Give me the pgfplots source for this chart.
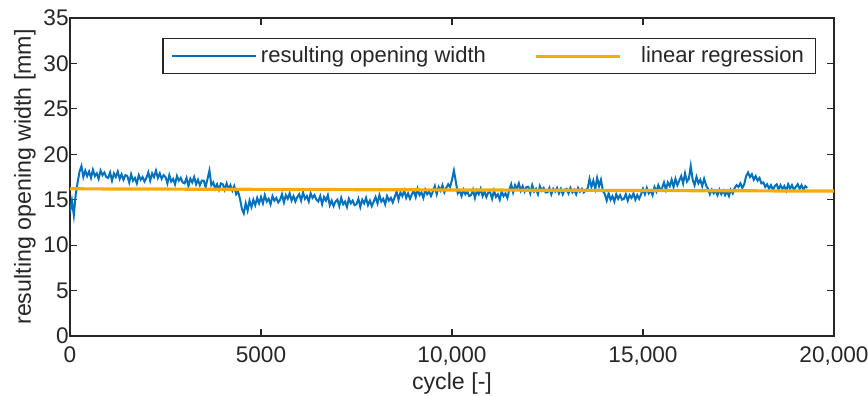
\documentclass[border=0pt]{standalone}
\usepackage{pgfplots}
\pgfplotsset{compat=1.18}
\usepackage{pgfplotstable}
\usetikzlibrary{calc}
\usepackage{fontspec}
\setmainfont{Liberation Sans}
\definecolor{mblue}{RGB}{0,114,189}
\definecolor{morange}{RGB}{247,170,10}
\definecolor{axgray}{RGB}{38,38,38}
\pgfplotstableread{
y
13.6
14.9
13.3
15.6
16.9
18.1
18.7
17.5
18.2
17.6
18.1
17.4
18.3
17.6
17.9
17.3
18.2
17.7
18.0
17.5
17.4
18.0
17.1
17.9
17.5
18.1
17.3
17.8
17.2
17.7
17.6
16.9
17.8
17.1
17.4
16.8
17.7
17.2
17.5
17.0
17.4
18.0
17.1
17.9
17.5
18.2
17.4
17.9
17.3
17.7
17.5
16.8
17.7
17.0
17.3
16.7
17.6
17.1
17.4
16.9
16.8
17.4
16.5
17.3
16.9
17.5
16.7
17.2
16.6
17.1
17.1
16.4
17.3
18.2
16.6
16.9
16.2
16.7
16.1
16.8
16.7
16.1
16.8
16.2
16.6
16.0
16.5
15.6
15.9
15.1
14.0
13.5
14.6
13.8
14.9
14.2
15.0
14.4
15.2
14.6
15.3
14.6
15.5
14.8
15.1
14.5
15.4
14.9
15.2
14.7
15.0
15.6
14.7
15.5
15.1
15.7
14.9
15.4
14.8
15.3
15.6
14.9
15.8
15.1
15.4
14.8
15.7
15.2
15.5
15.0
14.8
15.4
14.5
15.3
14.9
15.5
14.4
14.9
14.3
14.8
15.0
14.3
15.2
14.5
14.8
14.2
15.1
14.6
14.9
14.4
14.5
15.1
14.2
15.0
14.6
15.2
14.4
14.9
14.3
14.8
15.3
14.6
15.5
14.8
15.1
14.5
15.4
14.9
15.2
14.7
15.3
15.9
15.0
15.8
15.4
16.0
15.2
15.7
15.1
15.6
16.0
15.3
16.2
15.5
15.8
15.2
16.1
15.6
15.9
15.4
15.9
16.5
15.6
16.4
16.0
16.6
15.8
16.3
16.7
16.4
17.2
18.2
17.0
15.7
16.0
15.4
16.1
15.6
15.9
15.4
15.5
16.1
15.2
16.0
15.6
16.2
15.4
15.9
15.3
15.8
15.8
15.1
16.0
15.3
15.6
15.0
15.9
15.4
15.7
15.2
16.1
16.7
15.8
16.6
16.2
16.8
16.0
16.5
15.9
16.4
16.4
15.7
16.6
15.9
16.2
15.6
16.5
16.0
16.3
15.8
15.8
16.3
15.6
16.2
15.9
16.3
15.7
16.2
15.6
16.1
16.2
15.7
16.3
15.8
16.1
15.6
16.3
15.9
16.2
15.8
16.0
16.2
17.3
16.4
17.1
16.2
17.4
16.5
17.2
16.0
15.6
14.9
15.7
15.0
15.4
14.8
15.6
15.1
15.5
15.0
15.1
15.6
14.9
15.5
15.2
15.7
15.0
15.5
15.1
15.6
16.2
15.6
16.3
15.7
16.0
15.5
16.4
15.9
16.6
16.1
16.3
16.9
16.1
16.9
16.5
17.2
16.4
17.3
16.6
17.1
17.6
16.8
17.9
17.0
17.3
18.7
17.2
16.6
17.5
16.8
17.2
16.5
17.3
16.6
16.2
15.6
16.1
15.7
16.0
15.5
16.1
15.6
16.0
15.5
15.9
15.4
16.1
15.7
16.3
16.6
16.4
16.8
16.3
16.7
17.6
18.0
17.5
17.8
17.2
17.6
17.1
17.4
16.8
16.9
16.4
16.7
16.2
16.6
16.1
16.5
16.7
16.1
16.6
16.2
16.5
16.0
16.7
16.2
16.6
16.1
16.4
16.7
16.2
16.6
16.1
16.5
16.3
}\widthdata
\begin{document}
\begin{tikzpicture}
\begin{axis}[
  name=ax,
  scale only axis,
  width=382pt, height=159pt,
  xmin=0, xmax=20000, ymin=0, ymax=35,
  xtick={0,5000,10000,15000,20000},
  xticklabels={0,5000,{10,000},{15,000},{20,000}},
  ytick={0,5,...,35},
  scaled x ticks=false,
  /pgf/number format/assume math mode=true,
  tick align=inside,
  major tick length=3.5pt,
  axis line style={axgray, line width=0.6pt},
  every tick/.style={axgray, line width=0.6pt},
  tick label style={font=\fontsize{11.3}{13}\selectfont, text=axgray},
  yticklabel style={inner xsep=0.5pt},
  xticklabel style={yshift=-2pt},
  label style={font=\fontsize{11.6}{14}\selectfont, text=axgray},
  xlabel={cycle [-]},
  ylabel={resulting opening width [mm]},
  xlabel style={at={(axis description cs:0.5,-0.15)}, anchor=center},
  ylabel style={at={(axis description cs:-0.059,0.5)}, anchor=center, rotate=0},
  legend columns=2,
  legend style={at={(rel axis cs:0.977,0.937)}, anchor=north east,
    draw=axgray, line width=0.6pt, font=\fontsize{11}{13}\selectfont,
    text=axgray, inner xsep=4pt, inner ysep=2pt,
    /tikz/every even column/.append style={column sep=22pt}},
  legend image code/.code={\draw[#1] (0pt,0pt) -- (42pt,0pt);},
]
\addplot[mblue, line width=1pt] table[x expr=\coordindex*50, y=y] {\widthdata};
\addlegendentry{resulting opening width}
\addplot[morange, line width=1.6pt] coordinates {(0,16.2) (20000,15.95)};
\addlegendentry{\hspace{8pt}linear regression}
\end{axis}
\pgfresetboundingbox
\useasboundingbox ($(ax.south west)+(-35pt,-30pt)$) rectangle ($(ax.north east)+(17pt,9pt)$);
\end{tikzpicture}
\end{document}
